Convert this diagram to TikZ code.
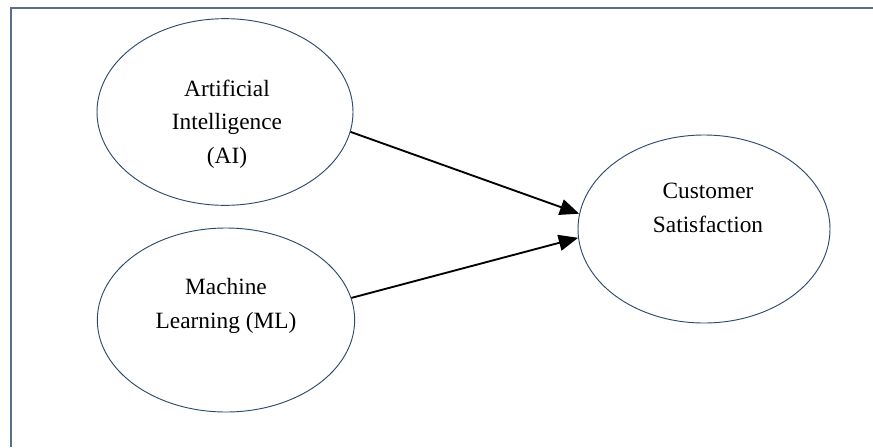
\documentclass[tikz,border=0pt]{standalone}
\usepackage{fontspec}
\setmainfont{Liberation Serif}
\usetikzlibrary{
    arrows.meta,
    shapes.geometric
}
\definecolor{framegray}{HTML}{5A6E88}
\definecolor{ovalblue}{HTML}{2E4A6E}

\begin{document}
\begin{tikzpicture}[
    x=0.75pt, y=-0.75pt,
    oval/.style={ellipse, draw=ovalblue, line width=0.7pt, inner sep=0pt},
    lbl/.style={align=center, anchor=base, inner sep=0pt, font=\fontsize{17.5}{25}\selectfont},
    arrow/.style={-{Triangle[length=14.5pt, width=12pt]}, line width=1.4pt},
]
\useasboundingbox (0,0) rectangle (873,447);

% frame
\draw[framegray, line width=1.1pt] (11,447) -- (11,8) -- (873,8);

\node[oval, minimum width=192pt, minimum height=140pt] (ai) at (225,112) {};
\node[oval, minimum width=193pt, minimum height=138pt] (ml) at (226,320) {};
\node[oval, minimum width=189pt, minimum height=141pt] (cust) at (704,229) {};

% labels, placed by the baseline of their last line
\node[lbl] (aitxt) at (227,163) {Artificial\\ Intelligence\\ (AI)};
\node[lbl] (mltxt) at (226,328) {Machine\\ Learning (ML)};
\node[lbl] (custtxt) at (708,232) {Customer\\ Satisfaction};

\draw[arrow] (ai.-9) -- (cust.173);
\draw[arrow] (ml.10) -- (cust.184);
\end{tikzpicture}
\end{document}
